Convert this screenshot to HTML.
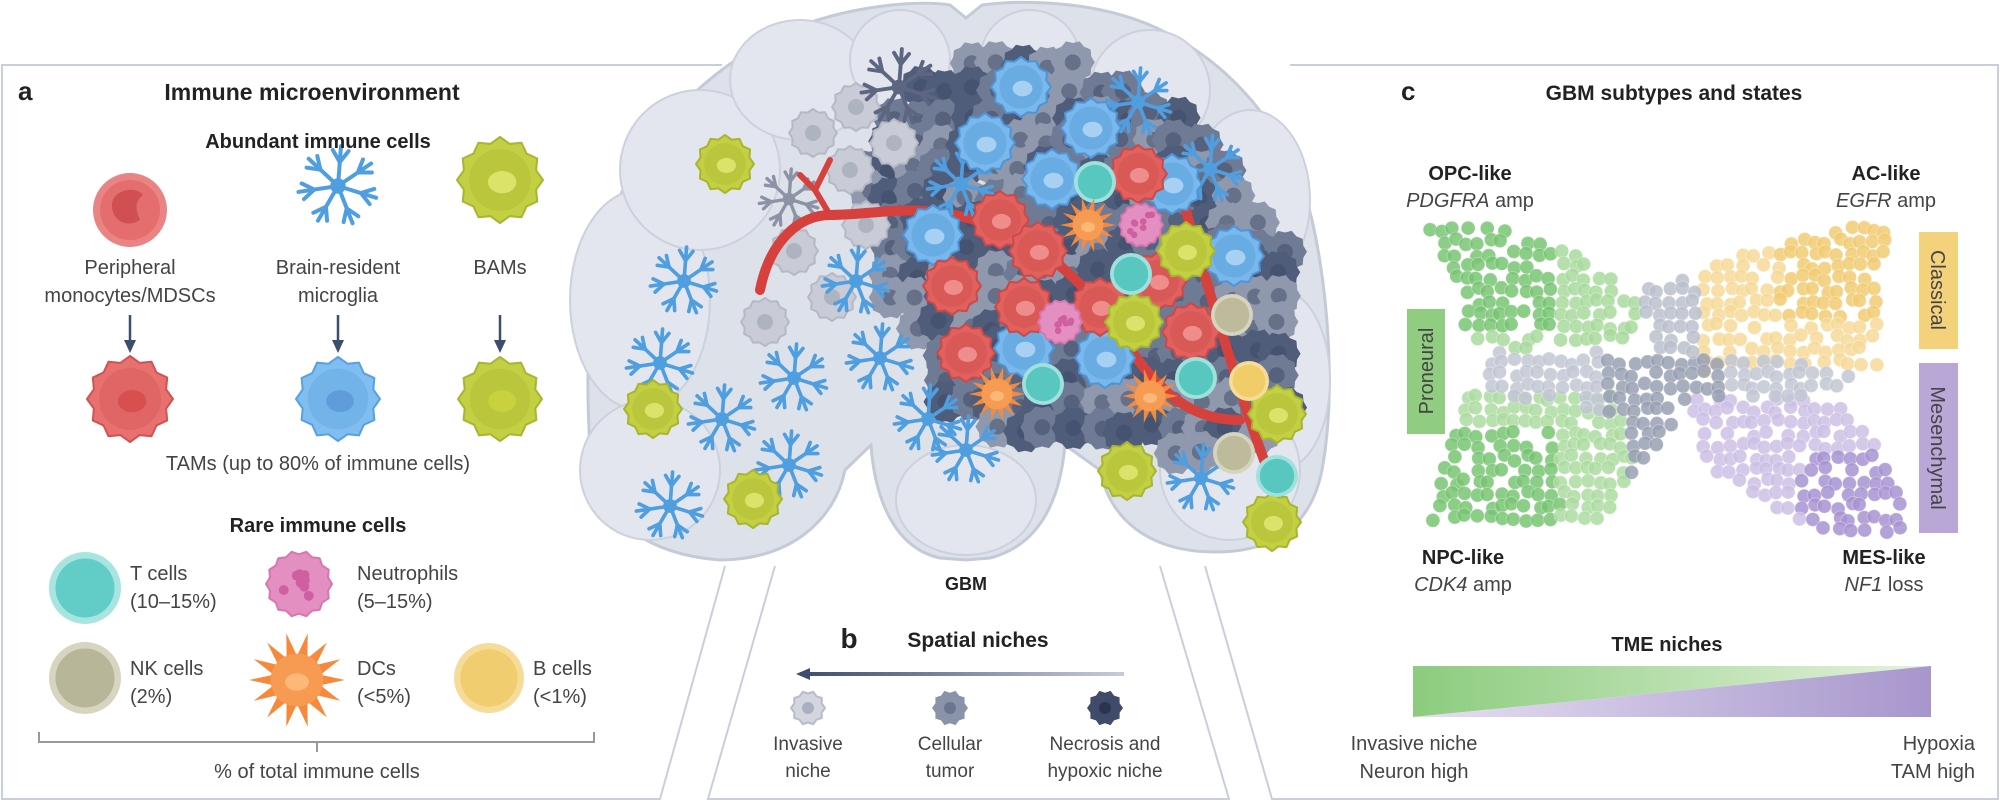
<!DOCTYPE html>
<html><head><meta charset="utf-8"><style>
html,body{margin:0;padding:0;background:#fff;}
svg{display:block;}
text{font-family:"Liberation Sans",Arial,sans-serif;fill:#444;}
.b{font-weight:bold;fill:#222;}
</style></head><body>
<svg id="s" width="2000" height="802" viewBox="0 0 2000 802" xmlns="http://www.w3.org/2000/svg">
<defs>
<linearGradient id="gg" x1="0" x2="1" y1="0" y2="0"><stop offset="0" stop-color="#8ccc7e"/><stop offset="1" stop-color="#e4f2dc"/></linearGradient>
<linearGradient id="pg" x1="0" x2="1" y1="0" y2="0"><stop offset="0" stop-color="#e6e0f2"/><stop offset="1" stop-color="#a796cc"/></linearGradient>
<linearGradient id="ag" x1="0" x2="1"><stop offset="0" stop-color="#3d4d6e"/><stop offset="1" stop-color="#c6ccdb"/></linearGradient>
</defs>
<g stroke="#c9cedb" stroke-width="2" fill="none">
<polyline points="722,65 2,65 2,799 660,799 725,566"/>
<polyline points="775,566 708,799 1229,799 1160,566"/>
<polyline points="1205,566 1272,799 1998,799 1998,65 1290,65"/>
</g>
<g id="brain"></g>
<g id="cells"></g>
<text x="18" y="100" class="b" font-size="26">a</text>
<text x="312" y="100" class="b" font-size="23" text-anchor="middle">Immune microenvironment</text>
<text x="318" y="148" class="b" font-size="20" text-anchor="middle">Abundant immune cells</text>
<g font-size="20" text-anchor="middle">
<text x="130" y="274">Peripheral</text><text x="130" y="302">monocytes/MDSCs</text>
<text x="338" y="274">Brain-resident</text><text x="338" y="302">microglia</text>
<text x="500" y="274">BAMs</text>
<text x="318" y="470">TAMs (up to 80% of immune cells)</text>
<text x="317" y="778">% of total immune cells</text>
</g>
<text x="318" y="532" class="b" font-size="20" text-anchor="middle">Rare immune cells</text>
<g font-size="20">
<text x="130" y="580">T cells</text><text x="130" y="608">(10–15%)</text>
<text x="357" y="580">Neutrophils</text><text x="357" y="608">(5–15%)</text>
<text x="130" y="675">NK cells</text><text x="130" y="703">(2%)</text>
<text x="357" y="675">DCs</text><text x="357" y="703">(&lt;5%)</text>
<text x="533" y="675">B cells</text><text x="533" y="703">(&lt;1%)</text>
</g>
<g stroke="#3d4d6e" stroke-width="2.5" fill="#3d4d6e">
<line x1="130" y1="315" x2="130" y2="345"/><polygon points="124,340 136,340 130,353" stroke="none"/>
<line x1="338" y1="315" x2="338" y2="345"/><polygon points="332,340 344,340 338,353" stroke="none"/>
<line x1="500" y1="315" x2="500" y2="345"/><polygon points="494,340 506,340 500,353" stroke="none"/>
</g>
<polyline points="39,732 39,742 594,742 594,732" fill="none" stroke="#999" stroke-width="2"/>
<line x1="317" y1="742" x2="317" y2="752" stroke="#999" stroke-width="2"/>
<text x="966" y="590" class="b" font-size="18" text-anchor="middle">GBM</text>
<text x="849" y="648" class="b" font-size="28" text-anchor="middle">b</text>
<text x="978" y="647" class="b" font-size="21" text-anchor="middle">Spatial niches</text>
<rect x="800" y="672" width="324" height="4" fill="url(#ag)"/>
<polygon points="796,674 810,668 810,680" fill="#3d4d6e"/>
<g font-size="19" text-anchor="middle">
<text x="808" y="750">Invasive</text><text x="808" y="777">niche</text>
<text x="950" y="750">Cellular</text><text x="950" y="777">tumor</text>
<text x="1105" y="750">Necrosis and</text><text x="1105" y="777">hypoxic niche</text>
</g>
<g id="scatter"></g>
<text x="1401" y="100" class="b" font-size="26">c</text>
<text x="1674" y="100" class="b" font-size="21" text-anchor="middle">GBM subtypes and states</text>
<g font-size="20" text-anchor="middle">
<text x="1470" y="180" class="b">OPC-like</text><text x="1470" y="207"><tspan font-style="italic">PDGFRA</tspan> amp</text>
<text x="1886" y="180" class="b">AC-like</text><text x="1886" y="207"><tspan font-style="italic">EGFR</tspan> amp</text>
<text x="1463" y="564" class="b">NPC-like</text><text x="1463" y="591"><tspan font-style="italic">CDK4</tspan> amp</text>
<text x="1884" y="564" class="b">MES-like</text><text x="1884" y="591"><tspan font-style="italic">NF1</tspan> loss</text>
<text x="1667" y="651" class="b">TME niches</text>
<text x="1414" y="750">Invasive niche</text><text x="1414" y="778">Neuron high</text>
<text x="1975" y="750" text-anchor="end">Hypoxia</text><text x="1975" y="778" text-anchor="end">TAM high</text>
</g>
<rect x="1407" y="309" width="38" height="125" fill="#91cd80"/>
<text transform="translate(1433,371) rotate(-90)" font-size="20" text-anchor="middle">Proneural</text>
<rect x="1919" y="232" width="39" height="117" fill="#f4d27c"/>
<text transform="translate(1931,290) rotate(90)" font-size="20" text-anchor="middle">Classical</text>
<rect x="1919" y="363" width="39" height="170" fill="#b9a7d8"/>
<text transform="translate(1931,448) rotate(90)" font-size="20" text-anchor="middle">Mesenchymal</text>
<polygon points="1413,666 1931,666 1413,717" fill="url(#gg)"/>
<polygon points="1931,666 1931,717 1413,717" fill="url(#pg)"/>
</svg>
<script>
var NS="http://www.w3.org/2000/svg";
function el(p,t,a){var e=document.createElementNS(NS,t);for(var k in a)e.setAttribute(k,a[k]);p.appendChild(e);return e;}
var S=123;function rnd(){S=(S*9301+49297)%233280;return S/233280;}
var B=document.getElementById('brain'),C=document.getElementById('cells'),SC=document.getElementById('scatter');
el(B,'path',{d:"M720,560 C650,555 592,520 590,450 C586,380 585,300 610,220 C640,140 700,70 790,30 C850,5 920,0 950,5 L966,18 L982,5 C1020,0 1090,0 1150,25 C1230,60 1290,130 1312,220 C1330,300 1335,400 1322,470 C1310,530 1270,552 1215,552 C1150,552 1110,520 1100,470 L1065,445 C1060,500 1040,545 990,558 L966,560 L940,558 C895,548 875,500 871,445 L845,470 C835,520 790,560 720,560 Z",fill:"#dde1ea",stroke:"#c5cad7","stroke-width":3});
[[640,300,70,110],[700,170,80,80],[800,80,70,60],[900,60,50,50],[1030,60,50,50],[1150,90,60,60],[1250,200,60,90],[1280,380,50,90],[650,470,70,70],[1230,470,70,70],[966,500,70,55]].forEach(function(e){el(B,'ellipse',{cx:e[0],cy:e[1],rx:e[2],ry:e[3],fill:"#e3e6ee",stroke:"#cdd1dc","stroke-width":2});});
function blob(p,x,y,r,n,amp,fill,stroke){var pts=[];for(var i=0;i<n*2;i++){var a=i*Math.PI/n,rr=r*(i%2?1-amp:1);pts.push((x+rr*Math.cos(a)).toFixed(1)+","+(y+rr*Math.sin(a)).toFixed(1));}el(p,'polygon',{points:pts.join(" "),fill:fill,stroke:stroke||"none","stroke-width":2,"stroke-linejoin":"round"});}
function tam(p,x,y,r,c1,c2,c3){blob(p,x,y,r,12,0.13,c1,c2);el(p,'circle',{cx:x,cy:y,r:r*0.72,fill:c2,opacity:0.35});el(p,'ellipse',{cx:x+r*0.05,cy:y+r*0.05,rx:r*0.33,ry:r*0.26,fill:c3});}
function rc(p,x,y,r,f,ring){el(p,'circle',{cx:x,cy:y,r:r,fill:ring});el(p,'circle',{cx:x,cy:y,r:r*0.82,fill:f});}
function dc(p,x,y,r){blob(p,x,y,r,14,0.5,"#f58a3c");el(p,'circle',{cx:x,cy:y,r:r*0.55,fill:"#f79a52"});el(p,'ellipse',{cx:x,cy:y+2,rx:r*0.25,ry:r*0.18,fill:"#fbb877"});}
function neu(p,x,y,r){blob(p,x,y,r,14,0.1,"#e48fc2","#d876b0");for(var i=0;i<8;i++)el(p,'circle',{cx:x+(rnd()-.5)*r,cy:y+(rnd()-.5)*r,r:r*0.15,fill:"#cf5fa0"});}
function mg(p,x,y,s,col){var g=el(p,'g',{stroke:col,"stroke-width":s/16+1.5,fill:"none","stroke-linecap":"round"});for(var i=0;i<7;i++){var a=i*2*Math.PI/7+0.3,ex=x+s*Math.cos(a),ey=y+s*Math.sin(a);el(g,'line',{x1:x,y1:y,x2:ex,y2:ey});var mx=x+s*0.6*Math.cos(a),my=y+s*0.6*Math.sin(a);[0.6,-0.6].forEach(function(d){el(g,'line',{x1:mx,y1:my,x2:mx+s*0.35*Math.cos(a+d),y2:my+s*0.35*Math.sin(a+d)});});}el(p,'circle',{cx:x,cy:y,r:s/7+2,fill:col});}
var poly=[[900,90],[980,55],[1080,55],[1180,110],[1240,170],[1285,250],[1300,340],[1290,420],[1245,445],[1180,455],[1100,440],[1000,430],[940,405],[910,340],[880,280],[860,220],[870,150]];
function inside(pt,pl){var c=false;for(var i=0,j=pl.length-1;i<pl.length;j=i++){var a=pl[i],b=pl[j];if((a[1]>pt[1])!=(b[1]>pt[1])&&pt[0]<(b[0]-a[0])*(pt[1]-a[1])/(b[1]-a[1])+a[0])c=!c;}return c;}
for(var yy=60;yy<460;yy+=26)for(var xx=860;xx<1310;xx+=26){var px=xx+rnd()*10,py=yy+rnd()*10;if(inside([px,py],poly)){var c=["#4f5c7a","#6f7a94","#8f98ad"][Math.floor(rnd()*3)];blob(C,px,py,22,10,0.12,c);el(C,'circle',{cx:px,cy:py,r:8,fill:"#3e4966",opacity:.5});}}
[[856,107],[813,133],[894,143],[794,251],[765,322],[832,297],[866,225],[850,170]].forEach(function(c){blob(C,c[0],c[1],24,12,0.12,"#c9ccd6","#b5b9c6");el(C,'circle',{cx:c[0],cy:c[1],r:8,fill:"#aeb3c0"});});
mg(C,899,87,38,"#5c6680");mg(C,789,199,30,"#8c93a5");
var g=el(C,'g',{stroke:"#d6403d",fill:"none","stroke-linecap":"round"});
el(g,'path',{d:"M760,290 C770,240 800,215 830,215 C880,215 920,200 990,225 C1050,250 1080,280 1110,320 C1150,380 1180,420 1240,420",'stroke-width':10});
el(g,'path',{d:"M830,215 L815,190 M815,190 L800,175 M815,190 L830,160 M790,230 L775,250",'stroke-width':6});
el(g,'path',{d:"M1180,190 C1200,260 1220,330 1250,420 C1270,480 1280,500 1290,520",'stroke-width':10});
[[684,281],[660,363],[722,419],[794,378],[789,465],[670,506],[856,281],[880,358],[928,419],[966,450],[1138,102],[1201,478],[1210,169],[961,184]].forEach(function(m){mg(C,m[0],m[1],34,"#4f9ee0");});
[[1021,87],[1091,128],[1052,179],[1172,184],[933,235],[985,143],[1024,348],[1105,358],[1234,256]].forEach(function(c){tam(C,c[0],c[1],30,"#79b8ec","#4e95d8","#a8d0f2");});
[[1000,220],[1038,251],[952,286],[1024,307],[1100,307],[1158,281],[1138,174],[966,353],[1191,332]].forEach(function(c){tam(C,c[0],c[1],29,"#e2615f","#c94a49","#ee8d8b");});
[[1141,225],[1060,322]].forEach(function(c){neu(C,c[0],c[1],22);});
[[1186,251],[1134,322],[725,164],[653,409],[753,499],[1127,471],[1277,414],[1272,522]].forEach(function(c){tam(C,c[0],c[1],29,"#c3d043","#a9b52f","#dbe36b");});
[[1095,182],[1131,274],[1043,384],[1196,378],[1277,476]].forEach(function(c){rc(C,c[0],c[1],21,"#57c7c0","#9fe2dd");});
[[1232,315],[1234,453]].forEach(function(c){rc(C,c[0],c[1],21,"#bdbb9c","#d6d4bd");});
rc(C,1249,381,20,"#f1cd6a","#f6dd97");
[[1088,225],[997,394],[1150,396]].forEach(function(c){dc(C,c[0],c[1],28);});
el(C,'circle',{cx:130,cy:210,r:37,fill:"#ea8383"});el(C,'circle',{cx:130,cy:210,r:30,fill:"#e46d6d"});el(C,'path',{d:"M112,205 C112,190 135,185 143,195 C135,200 135,210 140,220 C128,228 112,222 112,205Z",fill:"#d04f50"});
mg(C,338,186,40,"#4f9ee0");
tam(C,500,180,43,"#c3d043","#a9b52f","#dbe36b");
tam(C,130,399,43,"#e8706e","#cf5353","#d84f4f");
tam(C,338,399,42,"#80bdf0","#59a0e0","#5f9cd9");
tam(C,500,399,42,"#c3d043","#a9b52f","#c8d23c");
rc(C,85,588,36,"#62cdc6","#a8e5e1");
neu(C,299,584,33);
rc(C,85,678,36,"#b8b698","#d7d5bf");
dc(C,297,680,48);
rc(C,489,678,35,"#f0cd6e","#f6dc98");
blob(C,808,708,17,10,0.15,"#d3d6df","#b9bdc9");el(C,'circle',{cx:808,cy:708,r:6,fill:"#aab0bf"});
blob(C,950,708,18,10,0.15,"#8a93aa");el(C,'circle',{cx:950,cy:708,r:6,fill:"#6b7590"});
blob(C,1105,708,18,10,0.15,"#3f4b68");el(C,'circle',{cx:1105,cy:708,r:6,fill:"#2b3550"});
var regs=[
 {p:[[1424,228],[1500,228],[1570,250],[1630,285],[1645,325],[1610,345],[1470,350],[1460,300]],c:function(x,y){return (x<1560&&y<330)?"#79c574":"#a9da9d";}},
 {p:[[1470,392],[1610,392],[1630,430],[1635,470],[1610,525],[1428,525],[1440,470]],c:function(x,y){return (x<1560&&y>430)?"#79c574":"#addca2";}},
 {p:[[1700,272],[1760,248],[1860,225],[1888,228],[1882,300],[1880,372],[1700,372],[1697,320]],c:function(x,y){return (x>1780&&y<320)?"#f2cc74":"#f6da98";}},
 {p:[[1690,398],[1780,398],[1840,402],[1875,445],[1905,500],[1908,536],[1840,536],[1760,505],[1700,460]],c:function(x,y){return (x>1800&&y>450)?"#a893d2":"#cdc0e6";}},
 {p:[[1480,352],[1690,352],[1850,368],[1850,395],[1690,398],[1640,470],[1620,480],[1630,420],[1480,390]],c:function(x,y){return (x>1600&&x<1720)?"#98a0b2":"#c2c7d4";}},
 {p:[[1640,280],[1700,280],[1700,360],[1650,350]],c:function(){return "#bac0cd";}}
];
regs.forEach(function(r){for(var y=215;y<545;y+=12)for(var x=1415;x<1915;x+=12){var px=x+rnd()*6,py=y+rnd()*6;if(inside([px,py],r.p)&&rnd()>0.08){var c=r.c(px,py);el(SC,'circle',{cx:px,cy:py,r:7,fill:c,stroke:"#ffffff","stroke-opacity":.35,"stroke-width":1,opacity:.85});}}});
</script>
</body></html>
